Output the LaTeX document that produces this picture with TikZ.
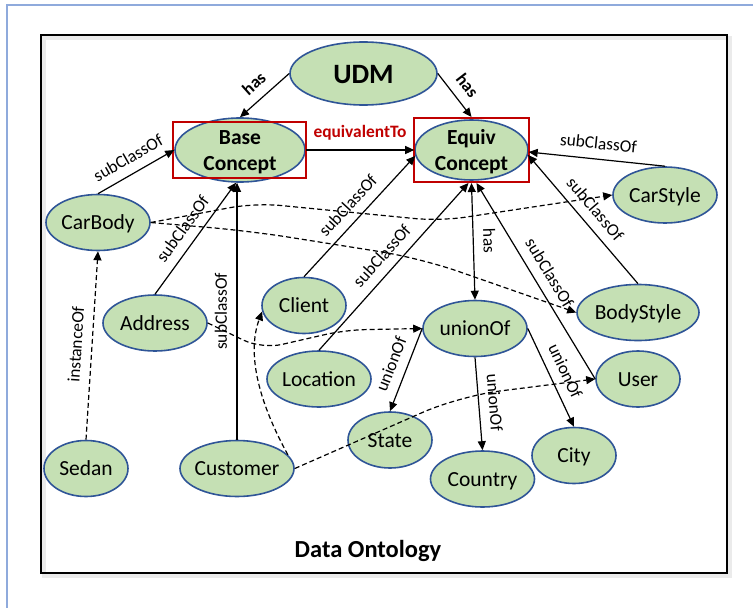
\documentclass[tikz,border=0pt]{standalone}
\usepackage{fontspec}
\setmainfont{Carlito}
\usetikzlibrary{arrows.meta,shapes.geometric,calc}
\definecolor{nodefill}{HTML}{C5E0B4}
\definecolor{nodeline}{HTML}{2F5597}
\definecolor{boxred}{HTML}{C00000}
\definecolor{frameblue}{HTML}{8FAADC}
\newcommand\lblfont{\fontsize{17.4}{20}\selectfont}
\begin{document}
\begin{tikzpicture}[x=1pt,y=-1pt,
  concept/.style={ellipse, draw=nodeline, line width=1.6pt, fill=nodefill, inner sep=-6pt,
    font=\fontsize{21.5}{26}\selectfont, align=center, text height=16pt, text depth=1.5pt},
  twoline/.style={font=\fontsize{21.5}{26}\selectfont\bfseries, text height=42pt, text depth=2pt},
  redbox/.style={rectangle, draw=boxred, line width=2pt, inner sep=0pt},
  rel/.style={draw, line width=1.2pt, -{Triangle[length=9pt,width=8pt]}},
  dashrel/.style={rel, dash pattern=on 5pt off 3pt},
  lbl/.style={sloped, above, inner sep=0pt, outer sep=10pt, font=\lblfont, text=black},
  blbl/.style={lbl, font=\lblfont\bfseries},
]
\useasboundingbox (0,0) rectangle (753,608);
\fill[white] (0,0) rectangle (753,608);
\draw[frameblue, line width=1.5pt] (7,612) -- (7,5) -- (757,5);
\draw[black!8, line width=4pt] (43.5,37.5) rectangle (729.5,575.5);
\draw[line width=2.5pt] (41,35) rectangle (727,573);

% nodes
\node[concept, minimum width=147pt, minimum height=63pt, font=\fontsize{28}{30}\selectfont\bfseries, text height=20pt, text depth=0pt] (udm) at (363.5,73.5) {UDM};
\node[concept, twoline, minimum width=130pt, minimum height=64pt] (base) at (240,150) {Base\\Concept};
\node[concept, twoline, minimum width=113pt, minimum height=60pt] (equiv) at (471.5,150) {Equiv\\Concept};
\node[redbox, minimum width=133pt, minimum height=56pt] (basebox) at (239.5,150) {};
\node[redbox, minimum width=115pt, minimum height=64pt] (equivbox) at (471.5,150) {};
\node[concept, minimum width=104pt, minimum height=56pt] (carbody) at (98,222.5) {CarBody};
\node[concept, minimum width=104pt, minimum height=56pt] (carstyle) at (665,195) {CarStyle};
\node[concept, minimum width=104pt, minimum height=56pt] (address) at (155,323) {Address};
\node[concept, minimum width=84pt, minimum height=56pt] (client) at (304,305.5) {Client};
\node[concept, minimum width=104pt, minimum height=56pt] (location) at (319,379) {Location};
\node[concept, minimum width=104pt, minimum height=56pt] (unionof) at (475,328.5) {unionOf};
\node[concept, minimum width=122pt, minimum height=56pt] (bodystyle) at (638,312.5) {BodyStyle};
\node[concept, minimum width=84pt, minimum height=56pt] (user) at (638,379) {User};
\node[concept, minimum width=84pt, minimum height=56pt] (state) at (390,440) {State};
\node[concept, minimum width=104pt, minimum height=56pt] (country) at (482.5,479) {Country};
\node[concept, minimum width=84pt, minimum height=56pt] (city) at (574,455.5) {City};
\node[concept, minimum width=84pt, minimum height=56pt] (sedan) at (86,468.5) {Sedan};
\node[concept, minimum width=114pt, minimum height=56pt] (customer) at (237,468.5) {Customer};
\node[anchor=base, font=\fontsize{24.5}{28}\selectfont\bfseries] (title) at (368,557) {Data Ontology};

% solid relations
\draw[rel] (udm.west) -- node[blbl] {has} (base.north);
\draw[rel] (udm.east) -- node[blbl] {has} (equivbox.north);
\draw[rel] (base.east) -- node[blbl, text=boxred] {equivalentTo} (equiv.west);
\draw[rel] (carbody.north) -- node[lbl] {subClassOf} (base.west);
\draw[rel] (address.north) -- node[lbl] {subClassOf} (base.-97);
\draw[rel] (customer.north) -- node[lbl] {subClassOf} (customer.north |- base.south);
\draw[rel] (client.north) -- node[lbl] {subClassOf} (equiv.186);
\draw[rel] (location.north) -- node[lbl] {subClassOf} ($(equivbox.south)+(-3,0)$);
\draw[rel, {Triangle[length=9pt,width=8pt]}-{Triangle[length=9pt,width=8pt]}] (equivbox.south) -- node[lbl] {has} (unionof.north);
\draw[rel] (user.west) -- node[lbl] {subClassOf} ($(equivbox.south)+(5,0)$);
\draw[rel] (bodystyle.north) -- node[lbl] {subClassOf} (equiv.-5);
\draw[rel] (carstyle.north) -- node[lbl] {subClassOf} (equiv.-2);
\draw[rel] (unionof.west) -- node[lbl] {unionOf} (state.north);
\draw[rel] (unionof.south) -- node[lbl] {unionOf} (country.north);
\draw[rel] (unionof.east) -- node[lbl] {unionOf} (city.north);

% dashed relations
\draw[dashrel] (sedan.north) -- node[lbl] {instanceOf} (carbody.south);
\draw[dashrel, rounded corners=25pt] (carbody.east) -- (255,203) -- (440,221) -- (carstyle.west);
\draw[dashrel, rounded corners=40pt] (carbody.east) -- (250,231) -- (420,258) -- (bodystyle.west);
\draw[dashrel, rounded corners=20pt] (address.east) -- (262,349) -- (345,330) -- (unionof.west);
\draw[dashrel] (customer.15) .. controls (255,395) and (248,350) .. (client.188);
\draw[dashrel, rounded corners=40pt] (customer.east) -- (460,396) -- (user.west);
\end{tikzpicture}
\end{document}
